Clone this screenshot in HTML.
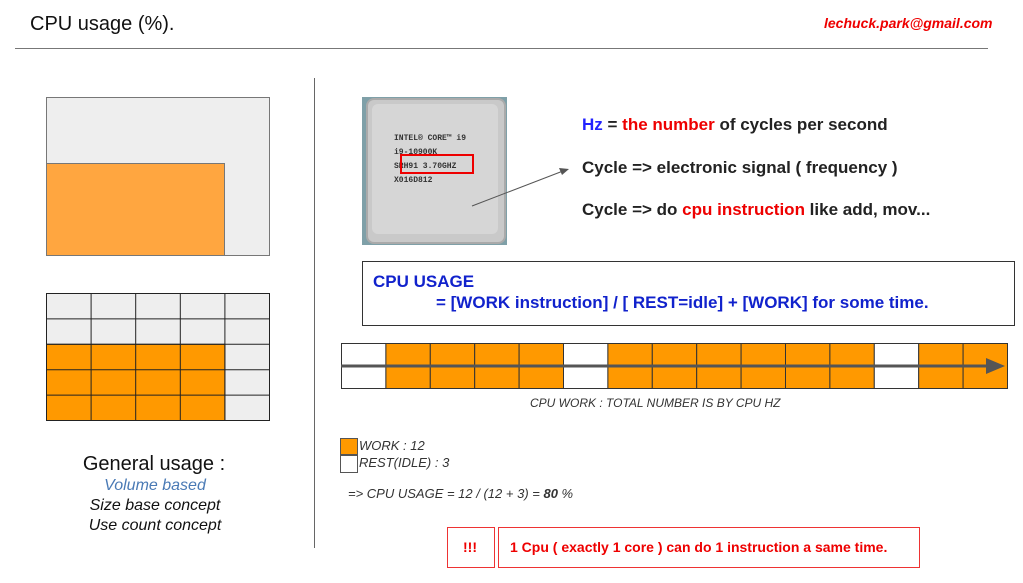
<!DOCTYPE html>
<html><head><meta charset="utf-8"><style>
body{margin:0;width:1023px;height:583px;background:#fff;position:relative;overflow:hidden;font-family:"Liberation Sans",Arial,sans-serif}
.a{position:absolute;white-space:nowrap}
.b{font-weight:bold}
</style></head><body>
<div class="a" style="left:30px;top:13px;font-size:20px;color:#111">CPU usage (%).</div>
<div class="a b" style="left:824px;top:15px;font-size:14px;color:#e00;font-style:italic">lechuck.park@gmail.com</div>
<div class="a" style="left:15px;top:48px;width:973px;height:1px;background:#777"></div>
<div class="a" style="left:314px;top:78px;width:1px;height:470px;background:#666"></div>

<div class="a" style="left:46px;top:97px;width:222px;height:157px;background:#eee;border:1px solid #777"></div>
<div class="a" style="left:46px;top:163px;width:177px;height:91px;background:#ffa640;border:1px solid #777"></div>

<div class="a" style="left:362px;top:97px;width:145px;height:148px;background:#7fa0a8"></div>
<div class="a" style="left:366px;top:98px;width:136px;height:142px;background:#c9c9c9;border-radius:8px;border:2px solid #aaa"></div>
<div class="a" style="left:372px;top:104px;width:126px;height:130px;background:#d6d6d6;border-radius:6px"></div>
<div class="a" style="left:394px;top:132px;font-family:'Liberation Mono',monospace;font-size:8px;line-height:14px;color:#333;font-weight:bold">INTEL&#174; CORE™ i9<br>i9-10900K<br>SRH91 3.70GHZ<br>X016D812</div>
<div class="a" style="left:400px;top:154px;width:70px;height:16px;border:2px solid #e00"></div>

<svg class="a" style="left:0;top:0" width="1023" height="583">
<g stroke="#222" stroke-width="1">
<rect x="46.5" y="293.5" width="223" height="127" fill="#eee"/>
<rect x="46.5" y="344.3" width="178.4" height="76.2" fill="#ff9900"/>
<line x1="91.1" y1="293" x2="91.1" y2="420"/><line x1="135.7" y1="293" x2="135.7" y2="420"/><line x1="180.3" y1="293" x2="180.3" y2="420"/><line x1="224.9" y1="293" x2="224.9" y2="420"/>
<line x1="46" y1="318.9" x2="269" y2="318.9"/><line x1="46" y1="344.3" x2="269" y2="344.3"/><line x1="46" y1="369.7" x2="269" y2="369.7"/><line x1="46" y1="395.1" x2="269" y2="395.1"/>
</g>
<g stroke="#333" stroke-width="1">
<rect x="341.5" y="343.5" width="44.4" height="45" fill="#fff"/>
<rect x="385.9" y="343.5" width="44.4" height="45" fill="#ff9900"/>
<rect x="430.3" y="343.5" width="44.4" height="45" fill="#ff9900"/>
<rect x="474.7" y="343.5" width="44.4" height="45" fill="#ff9900"/>
<rect x="519.1" y="343.5" width="44.4" height="45" fill="#ff9900"/>
<rect x="563.5" y="343.5" width="44.4" height="45" fill="#fff"/>
<rect x="607.9" y="343.5" width="44.4" height="45" fill="#ff9900"/>
<rect x="652.3" y="343.5" width="44.4" height="45" fill="#ff9900"/>
<rect x="696.7" y="343.5" width="44.4" height="45" fill="#ff9900"/>
<rect x="741.1" y="343.5" width="44.4" height="45" fill="#ff9900"/>
<rect x="785.5" y="343.5" width="44.4" height="45" fill="#ff9900"/>
<rect x="829.9" y="343.5" width="44.4" height="45" fill="#ff9900"/>
<rect x="874.3" y="343.5" width="44.4" height="45" fill="#fff"/>
<rect x="918.7" y="343.5" width="44.4" height="45" fill="#ff9900"/>
<rect x="963.1" y="343.5" width="44.4" height="45" fill="#ff9900"/>
</g>
<line x1="341" y1="366" x2="990" y2="366" stroke="#555" stroke-width="3"/>
<polygon points="986,358 1005,366 986,374" fill="#555"/>
<line x1="472" y1="206" x2="563" y2="171" stroke="#555" stroke-width="1"/>
<polygon points="569,169 559,168 562,175" fill="#555"/>
</svg>

<div class="a b" style="left:582px;top:115px;font-size:17px;color:#222"><span style="color:#22f">Hz</span> = <span style="color:#e00">the number</span> of cycles per second</div>
<div class="a b" style="left:582px;top:158px;font-size:17px;color:#222">Cycle =&gt; electronic signal ( frequency )</div>
<div class="a b" style="left:582px;top:200px;font-size:17px;color:#222">Cycle =&gt; do <span style="color:#e00">cpu instruction</span> like add, mov...</div>

<div class="a" style="left:362px;top:261px;width:651px;height:63px;border:1px solid #333"></div>
<div class="a b" style="left:373px;top:272px;font-size:17px;color:#12c">CPU USAGE</div>
<div class="a b" style="left:436px;top:293px;font-size:17px;color:#12c">= [WORK instruction] / [ REST=idle] + [WORK] for some time.</div>

<div class="a" style="left:530px;top:396px;font-size:12px;font-style:italic;color:#333">CPU WORK : TOTAL NUMBER IS BY CPU HZ</div>
<div class="a" style="left:340px;top:438px;width:16px;height:15px;background:#ff9900;border:1px solid #555"></div>
<div class="a" style="left:340px;top:455px;width:16px;height:16px;background:#fff;border:1px solid #555"></div>
<div class="a" style="left:359px;top:438px;font-size:13px;font-style:italic;color:#333">WORK : 12</div>
<div class="a" style="left:359px;top:455px;font-size:13px;font-style:italic;color:#333">REST(IDLE) : 3</div>
<div class="a" style="left:348px;top:486px;font-size:13px;font-style:italic;color:#333">=&gt; CPU USAGE = 12 / (12 + 3) = <b>80</b> %</div>

<div class="a" style="left:447px;top:527px;width:46px;height:39px;border:1px solid #e33"></div>
<div class="a b" style="left:463px;top:539px;font-size:14px;color:#e00">!!!</div>
<div class="a" style="left:498px;top:527px;width:420px;height:39px;border:1px solid #e33"></div>
<div class="a b" style="left:510px;top:539px;font-size:14px;color:#e00">1 Cpu ( exactly 1 core ) can do 1 instruction a same time.</div>

<div class="a" style="left:0;width:308px;top:453px;text-align:center;font-size:20px;color:#111">General usage :</div>
<div class="a" style="left:0;width:310px;top:477px;text-align:center;font-size:16px;font-style:italic;color:#4a7ab5">Volume based</div>
<div class="a" style="left:0;width:310px;top:497px;text-align:center;font-size:16px;font-style:italic;color:#111">Size base concept</div>
<div class="a" style="left:0;width:310px;top:517px;text-align:center;font-size:16px;font-style:italic;color:#111">Use count concept</div>
</body></html>
